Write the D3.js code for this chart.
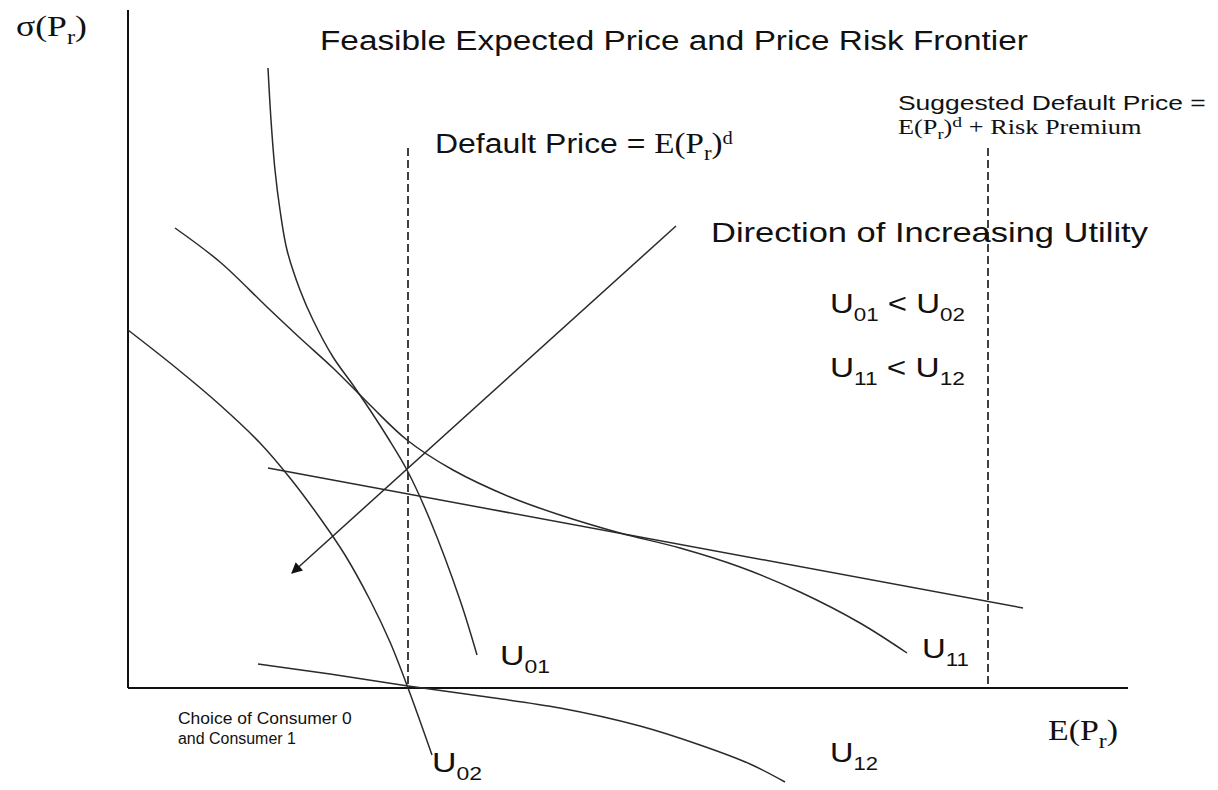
<!DOCTYPE html>
<html>
<head>
<meta charset="utf-8">
<script src="https://cdn.jsdelivr.net/npm/d3@7"></script>
<style>
  html, body { margin: 0; padding: 0; background: #fff; }
  svg { display: block; }
</style>
</head>
<body>
<div id="chart"></div>
<script>
// Curve points in chart units (x = E(Pr), y = sigma(Pr))
const curveU01 = [[14.0,62.0],[14.3,56.8],[14.7,51.8],[15.2,47.8],[15.9,43.8],[17.2,39.8],[18.5,36.8],[20.5,33.1],[22.5,30.3],[24.2,27.8],[26.0,25.0],[27.9,21.8],[30.2,16.8],[33.2,8.8],[34.9,3.3]];
const curveU11 = [[4.7,46.0],[9.2,42.6],[13.9,38.1],[17.2,35.0],[20.5,32.0],[24.2,28.3],[27.9,24.8],[32.5,21.8],[38.2,19.1],[43.2,17.3],[49.2,15.5],[55.2,14.0],[61.2,12.1],[67.2,9.6],[73.2,6.5],[77.9,3.5]];
const curveU02 = [[0,35.8],[4.7,32.1],[9.2,28.3],[13.2,24.5],[16.2,21.0],[19.2,17.0],[21.7,13.3],[24.2,8.8],[26.2,4.6],[28.0,0],[30.4,-6.7]];
const curveU12 = [[13.0,2.4],[20.2,1.4],[28.0,0.2],[35.2,-0.8],[43.2,-2.0],[51.2,-3.8],[57.2,-5.7],[62.2,-7.6],[65.7,-9.4]];
const frontierLine = [[14.0,22.0],[89.5,8.0]];
const utilityArrow = [[54.8,46.2],[16.4,11.5]];
const defaultPrices = [28.0, 86.0];   // E(Pr)^d and E(Pr)^d + risk premium
const dashTop = 54.0;
const axisMax = { x: 100, y: 67.8 };

const W = 1218, H = 790;
const sans = 'Liberation Sans, Arial, sans-serif';
const serif = 'Liberation Serif, Times New Roman, serif';

const svg = d3.select('#chart').append('svg')
  .attr('width', W)
  .attr('height', H);

const x = d3.scaleLinear().domain([0, 100]).range([128, 1128]);
const y = d3.scaleLinear().domain([0, 68]).range([688, 8]);

svg.append('defs').append('marker')
  .attr('id', 'head')
  .attr('viewBox', '0 0 10 10')
  .attr('refX', 9).attr('refY', 5)
  .attr('markerWidth', 14).attr('markerHeight', 11)
  .attr('markerUnits', 'userSpaceOnUse')
  .attr('orient', 'auto')
  .append('path')
  .attr('d', 'M0,0 L10,5 L0,10 Z')
  .attr('fill', '#111');

// axes
svg.append('line')
  .attr('x1', x(0)).attr('y1', y(0)).attr('x2', x(0)).attr('y2', y(axisMax.y))
  .attr('stroke', '#111').attr('stroke-width', 2);
svg.append('line')
  .attr('x1', x(0)).attr('y1', y(0)).attr('x2', x(axisMax.x)).attr('y2', y(0))
  .attr('stroke', '#111').attr('stroke-width', 2);

// dashed price lines
svg.selectAll('.dash')
  .data(defaultPrices)
  .enter()
  .append('line')
  .attr('class', 'dash')
  .attr('x1', d => x(d)).attr('x2', d => x(d))
  .attr('y1', y(dashTop)).attr('y2', y(0))
  .attr('stroke', '#111').attr('stroke-width', 1.6)
  .attr('stroke-dasharray', '8,4');

// curves
const smooth = d3.line()
  .x(d => x(d[0])).y(d => y(d[1]))
  .curve(d3.curveCatmullRom.alpha(0.5));
const straight = d3.line().x(d => x(d[0])).y(d => y(d[1]));

[curveU01, curveU11, curveU02, curveU12].forEach(c => {
  svg.append('path')
    .attr('d', smooth(c))
    .attr('fill', 'none')
    .attr('stroke', '#2a2a2a')
    .attr('stroke-width', 1.5);
});

svg.append('path')
  .attr('d', straight(frontierLine))
  .attr('fill', 'none')
  .attr('stroke', '#2a2a2a')
  .attr('stroke-width', 1.5);

svg.append('path')
  .attr('d', straight(utilityArrow))
  .attr('fill', 'none')
  .attr('stroke', '#2a2a2a')
  .attr('stroke-width', 1.5)
  .attr('marker-end', 'url(#head)');

// text with sub/superscripts; the scanned original is a bit wide, so each
// label is stretched horizontally to the width it has in the picture
function richText(px, py, family, size, width, parts) {
  const t = svg.append('text')
    .attr('x', px).attr('y', py)
    .attr('font-family', family)
    .attr('font-size', size)
    .attr('fill', '#111');
  let prev = 0;
  parts.forEach(p => {
    const off = p.off || 0;
    const ts = t.append('tspan').attr('dy', off - prev).text(p.t);
    if (p.size) ts.attr('font-size', p.size);
    if (p.family) ts.attr('font-family', p.family);
    prev = off;
  });
  const w = t.node().getBBox().width;
  if (width && w > 0) {
    const s = width / w;
    t.attr('transform', 'translate(' + px + ',0) scale(' + s + ',1) translate(' + (-px) + ',0)');
  }
  return t;
}

richText(16, 36, serif, 29, 71, [{t: 'σ(P'}, {t: 'r', size: 20, off: 8}, {t: ')'}]);
richText(320, 50, sans, 28, 708, [{t: 'Feasible Expected Price and Price Risk Frontier'}]);

richText(898, 110, sans, 21, 308, [{t: 'Suggested Default Price ='}]);
richText(898, 134, serif, 20, 244, [
  {t: 'E(P'}, {t: 'r', size: 14, off: 5}, {t: ')'}, {t: 'd', size: 15, off: -7}, {t: ' + Risk Premium'}
]);

richText(435, 153, sans, 28, 298, [
  {t: 'Default Price = '},
  {t: 'E(P', family: serif, size: 29}, {t: 'r', family: serif, size: 20, off: 7},
  {t: ')', family: serif, size: 29}, {t: 'd', family: serif, size: 18, off: -9}
]);

richText(711, 242, sans, 28, 437, [{t: 'Direction of Increasing Utility'}]);

function uText(px, py, width, parts) {
  return richText(px, py, sans, 28, width, parts.map((s, i) =>
    i % 2 === 1 ? {t: s, size: 19, off: 8} : {t: s}));
}
uText(830, 313, 135, ['U', '01', ' < U', '02']);
uText(830, 377, 135, ['U', '11', ' < U', '12']);
uText(500, 665, 50, ['U', '01']);
uText(922, 658, 47, ['U', '11']);
uText(432, 772, 50, ['U', '02']);
uText(830, 762, 48, ['U', '12']);

richText(178, 724, sans, 16, 174, [{t: 'Choice of Consumer 0'}]);
richText(178, 744, sans, 16, 118, [{t: 'and Consumer 1'}]);

richText(1048, 740, serif, 30, 70, [{t: 'E(P'}, {t: 'r', size: 21, off: 8}, {t: ')'}]);
</script>
</body>
</html>
